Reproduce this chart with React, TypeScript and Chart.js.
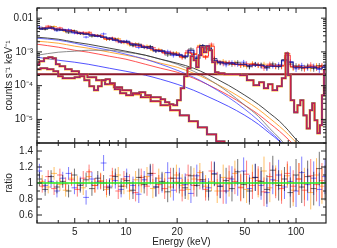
import React, { useEffect, useRef } from 'react';
import { Chart, registerables } from 'chart.js';
Chart.register(...registerables);

// ---------- energy grids (keV) ----------
const gridA = [3.1, 3.35, 3.63, 3.93, 4.25, 4.6, 4.98, 5.39, 5.83, 6.31, 6.83, 7.39, 8.0, 8.66, 9.37, 10.1, 11.0, 11.9, 12.8, 13.9, 15.0, 16.3, 17.6, 19.0, 20.6, 22.3, 24.1, 26.1, 28.3, 30.6, 33.1, 35.8, 38.8, 42.0, 45.4, 49.2, 53.2, 57.6, 62.3, 67.4, 73.0, 79.0, 85.5, 92.5, 100, 108, 117, 127, 137, 148];
const gridB = [3.22, 3.49, 3.78, 4.09, 4.42, 4.79, 5.18, 5.61, 6.07, 6.57, 7.1, 7.69, 8.32, 9.01, 9.73, 10.5, 11.4, 12.3, 13.3, 14.4, 15.6, 16.9, 18.3, 19.8, 21.4, 23.2, 25.1, 27.2, 29.4, 31.8, 34.4, 37.3, 40.4, 43.7, 47.3, 51.2, 55.4, 59.9, 64.8, 70.1, 75.9, 82.2, 88.9, 96.2, 104, 112, 122, 132, 142];

// ---------- total model (counts s^-1 keV^-1) ----------
const modelA = [4.72e-3, 5.05e-3, 5.05e-3, 4.72e-3, 4.40e-3, 4.11e-3, 3.84e-3, 3.59e-3, 3.35e-3, 3.13e-3,
  2.92e-3, 2.73e-3, 2.55e-3, 2.22e-3, 2.08e-3, 1.94e-3, 1.69e-3, 1.58e-3, 1.38e-3, 1.29e-3,
  1.12e-3, 1.05e-3, 9.15e-4, 8.55e-4, 7.98e-4, 7.45e-4, 1.12e-3, 6.5e-4, 1.48e-3, 1.29e-3,
  5.67e-4, 4.95e-4, 4.62e-4, 4.62e-4, 4.31e-4, 4.31e-4, 4.03e-4, 4.03e-4, 4.03e-4, 3.76e-4,
  3.76e-4, 3.76e-4, 5.67e-4, 4.95e-4, 3.51e-4, 3.51e-4, 3.51e-4, 3.51e-4, 3.28e-4, 3.51e-4];
const modelB = [5.05e-3, 5.41e-3, 5.05e-3, 4.72e-3, 4.40e-3, 4.11e-3, 3.84e-3, 3.59e-3, 3.35e-3, 3.13e-3,
  2.92e-3, 2.55e-3, 2.38e-3, 2.22e-3, 1.94e-3, 1.81e-3, 1.69e-3, 1.48e-3, 1.38e-3, 1.20e-3,
  1.12e-3, 9.8e-4, 9.15e-4, 8.55e-4, 7.45e-4, 9.8e-4, 8.55e-4, 1.38e-3, 7.45e-4, 1.48e-3,
  5.3e-4, 4.95e-4, 4.62e-4, 4.31e-4, 4.31e-4, 4.03e-4, 4.31e-4, 4.03e-4, 3.76e-4, 4.03e-4,
  3.76e-4, 4.03e-4, 7.98e-4, 3.76e-4, 3.51e-4, 3.51e-4, 3.76e-4, 3.51e-4, 3.76e-4];

// ---------- fractional errors ----------
const errA = [0.09, 0.08, 0.08, 0.08, 0.08, 0.08, 0.08, 0.09, 0.09, 0.09, 0.09, 0.1, 0.1, 0.1, 0.1, 0.1, 0.11, 0.11, 0.11, 0.12, 0.12, 0.12, 0.13, 0.13, 0.13, 0.14, 0.12, 0.14, 0.11, 0.12, 0.15, 0.15, 0.16, 0.16, 0.16, 0.17, 0.17, 0.17, 0.18, 0.18, 0.18, 0.19, 0.15, 0.19, 0.2, 0.2, 0.2, 0.21, 0.21, 0.22];
const errB = [0.08, 0.08, 0.08, 0.08, 0.08, 0.08, 0.09, 0.09, 0.09, 0.09, 0.1, 0.1, 0.1, 0.1, 0.1, 0.11, 0.11, 0.11, 0.12, 0.12, 0.12, 0.13, 0.13, 0.13, 0.14, 0.13, 0.14, 0.12, 0.14, 0.12, 0.15, 0.16, 0.16, 0.16, 0.17, 0.17, 0.17, 0.18, 0.18, 0.18, 0.19, 0.19, 0.15, 0.2, 0.2, 0.2, 0.21, 0.21, 0.22];

// ---------- data / model ratios ----------
const ratioBlack = [1.05, 0.92, 1.08, 0.95, 1.02, 0.9, 1.1, 0.97, 1.04, 0.93, 1.06, 1.0, 0.94, 1.08, 0.96, 1.03, 0.91, 1.07, 0.98, 1.12, 0.95, 1.02, 0.89, 1.06, 1.0, 0.94, 1.09, 0.97, 1.04, 0.9, 1.11, 0.96, 1.03, 0.93, 1.14, 0.98, 0.9, 1.07, 1.02, 0.92, 1.16, 0.97, 1.05, 0.88, 1.1, 0.95, 1.08, 0.93, 1.18, 1.0];
const ratioBlue = [1.15, 0.97, 1.02, 0.9, 1.06, 1.12, 0.94, 0.99, 0.82, 1.05, 1.01, 1.25, 0.96, 1.03, 0.92, 1.08, 0.97, 0.86, 1.04, 1.1, 0.95, 1.0, 1.13, 0.91, 1.06, 0.98, 0.87, 1.09, 1.02, 0.94, 1.12, 0.96, 0.9, 1.05, 1.0, 1.15, 0.93, 1.07, 0.97, 0.88, 1.04, 1.1, 0.95, 1.02, 0.9, 1.13, 0.98, 1.06, 0.92, 1.08];
const ratioRed = [0.96, 1.08, 0.93, 1.1, 0.99, 1.04, 0.92, 1.06, 1.14, 0.97, 1.02, 0.95, 1.09, 0.9, 1.05, 1.0, 0.88, 1.07, 0.96, 1.12, 0.98, 0.93, 1.06, 1.01, 0.91, 1.1, 0.97, 1.04, 0.92, 1.15, 0.99, 0.9, 1.06, 1.02, 0.94, 1.11, 0.97, 1.03, 0.89, 1.08, 1.0, 0.93, 1.12, 0.96, 1.05, 0.91, 1.09, 0.98, 1.03];
const ratioOrange = [1.02, 0.95, 1.12, 0.98, 0.91, 1.06, 1.0, 0.94, 1.08, 0.97, 1.03, 0.92, 1.05, 1.1, 0.96, 0.9, 1.04, 0.99, 1.08, 0.93, 1.06, 1.0, 0.95, 1.1, 0.97, 0.92, 1.05, 1.13, 0.96, 1.02, 0.9, 1.07, 0.99, 1.12, 0.95, 0.92, 1.06, 1.0, 1.15, 0.94, 1.03, 0.97, 1.09, 0.91, 1.05, 0.99, 0.88, 1.1, 0.96];

// ---------- smooth model components ----------
const compE = [3, 4, 5, 6, 8, 10, 13, 16, 20, 25, 30, 40, 50, 60, 70, 80, 90, 100, 120, 150];
const compDark = [2.73e-3, 2.38e-3, 1.94e-3, 1.69e-3, 1.29e-3, 1.05e-3, 7.98e-4, 6.07e-4, 4.62e-4, 3.28e-4, 2.18e-4, 1.03e-4, 5.19e-5, 2.81e-5, 1.52e-5, 8.8e-6, 4.75e-6, 2.57e-6, 1.21e-6, 4.3e-7];
const compGreyPeak = [7.98e-4, 9.8e-4, 1.05e-3, 1.12e-3, 1.12e-3, 9.8e-4, 7.98e-4, 6.07e-4, 4.31e-4, 2.67e-4, 1.66e-4, 6.37e-5, 2.62e-5, 1.24e-5, 5.4e-6, 2.75e-6, 1.39e-6, 7.0e-7, 2.2e-7, 5.6e-8];
const compOrange = [2.08e-3, 1.81e-3, 1.48e-3, 1.29e-3, 9.8e-4, 7.98e-4, 6.07e-4, 4.62e-4, 3.51e-4, 2.33e-4, 1.55e-4, 7.3e-5, 3.69e-5, 2.0e-5, 1.08e-5, 6.2e-6, 3.61e-6, 2.09e-6, 8.6e-7, 3.1e-7];
const compRed = [1.69e-3, 1.38e-3, 1.12e-3, 9.8e-4, 7.45e-4, 6.07e-4, 4.31e-4, 3.28e-4, 2.5e-4, 1.66e-4, 1.1e-4, 5.19e-5, 2.62e-5, 1.42e-5, 7.66e-6, 4.44e-6, 2.57e-6, 1.49e-6, 6.1e-7, 2.2e-7];
const compLightBlue = [2.55e-3, 2.22e-3, 1.81e-3, 1.48e-3, 1.12e-3, 8.55e-4, 6.07e-4, 4.31e-4, 2.86e-4, 1.78e-4, 1.1e-4, 4.53e-5, 2.0e-5, 9.4e-6, 4.44e-6, 2.4e-6, 1.21e-6, 6.1e-7, 1.8e-7, 4e-8];
const compBlueLow = [6.96e-4, 5.67e-4, 4.95e-4, 4.31e-4, 3.28e-4, 2.67e-4, 2.04e-4, 1.55e-4, 1.1e-4, 7.3e-5, 4.85e-5, 2.45e-5, 1.32e-5, 7.2e-6, 3.87e-6, 2.24e-6, 1.21e-6, 6.1e-7, 1.8e-7, 4e-8];

// ---------- reflection-like stepped component ----------
const reflE = [3.0, 3.2, 3.4, 3.6, 3.8, 3.95, 4.2, 4.6, 5.0, 5.6, 6.3, 7.1, 8.0, 9.0, 10.0, 11.5, 13, 15, 17, 19.5, 22, 25, 28, 32, 36, 40];
const reflV = [4.31e-4, 5.3e-4, 6.5e-4, 6.96e-4, 6.5e-4, 4.31e-4, 3.76e-4, 3.06e-4, 2.67e-4, 2.18e-4, 1.78e-4, 1.45e-4, 1.10e-4, 8.96e-5, 7.3e-5, 5.56e-5, 4.53e-5, 3.44e-5, 2.62e-5, 1.86e-5, 1.32e-5, 8.8e-6, 5.8e-6, 3.61e-6, 2.24e-6, 1.49e-6];

// ---------- background stepped component ----------
const bkgE = [3.0, 3.3, 3.6, 3.9, 4.1, 4.4, 4.8, 5.2, 5.5, 5.9, 6.3, 6.7, 7.0, 7.4, 7.8, 8.3, 8.9, 9.6, 10.5, 11.5, 12.5, 13.5, 14.5, 15.5, 16.5, 17.5, 18.5, 19.5, 20.5, 21.5, 22.5, 23.5, 24.5, 25.5, 26.3, 27.2, 28.2, 29.2, 30.3, 31.5, 32.8, 34, 36, 40, 45, 49, 54, 58.5, 63, 66.5, 70.5, 75, 80, 85, 88.6, 91, 95, 100, 104, 108, 113, 118, 123, 126, 131, 136, 140, 144, 148];
const bkgV = [3.06e-4, 3.28e-4, 3.06e-4, 2.67e-4, 1.90e-4, 1.66e-4, 1.66e-4, 1.78e-4, 1.90e-4, 1.45e-4, 9.6e-5, 7.3e-5, 9.6e-5, 1.45e-4, 1.55e-4, 1.18e-4, 7.82e-5, 5.95e-5, 5.19e-5, 5.95e-5, 6.37e-5, 5.19e-5, 4.53e-5, 4.53e-5, 3.95e-5, 3.22e-5, 2.81e-5, 2.62e-5, 3.69e-5, 8.37e-5, 1.90e-4, 3.28e-4, 7.45e-4, 5.67e-4, 3.51e-4, 7.98e-4, 1.38e-3, 9.8e-4, 1.48e-3, 1.12e-3, 4.95e-4, 2.5e-4, 2.33e-4, 2.18e-4, 2.18e-4, 2.04e-4, 1.45e-4, 1.03e-4, 1.26e-4, 8.37e-5, 1.10e-4, 7.3e-5, 9.6e-5, 1.66e-4, 9.15e-4, 2.04e-4, 3.69e-5, 1.62e-5, 2.62e-5, 3.69e-5, 1.32e-5, 5.4e-6, 1.86e-5, 3.0e-5, 9.4e-6, 3.87e-6, 6.7e-6, 5.19e-5, 2.86e-4];

// constant component
const constE = [3, 150];
const constV = [2.18e-4, 2.18e-4];

// ---------- axes ----------
const xRange = [3, 150];
const xTickValues = [5, 10, 20, 50, 100];
const xTickLabels = ['5', '10', '20', '50', '100'];
const xMinor = [3, 4, 6, 7, 8, 9, 30, 40, 60, 70, 80, 90];
const yTopRange = [2e-6, 0.02];
const yTopTickValues = [1e-5, 1e-4, 1e-3, 1e-2];
const yTopTickLabels = ['10\u207B\u2075', '10\u207B\u2074', '10\u207B\u00B3', '0.01'];
const yRatioRange = [0.5, 1.5];
const yRatioTicks = [0.6, 0.8, 1, 1.2, 1.4];
const yRatioLabels = ['0.6', '0.8', '1', '1.2', '1.4'];
const yRatioMinor = [0.7, 0.9, 1.1, 1.3];

const FONT = 'Liberation Sans, Arial, Helvetica, sans-serif';
const TXT = '#222';

// ---------- helpers ----------
function binEdges(E: number[]) {
  return E.map((e, i) => {
    const prev = i > 0 ? E[i - 1] : (e * e) / E[i + 1];
    const next = i < E.length - 1 ? E[i + 1] : (e * e) / E[i - 1];
    return [Math.sqrt(prev * e), Math.sqrt(e * next)];
  });
}
function crosses(E: number[], vals: number[], errs: number[]) {
  const ed = binEdges(E);
  const out: any[] = [];
  E.forEach((e, i) => {
    const v = vals[i];
    const d = errs[i];
    out.push({ x: ed[i][0], y: v }, { x: ed[i][1], y: v }, { x: e, y: null },
      { x: e, y: v - d }, { x: e, y: v + d }, { x: e, y: null });
  });
  return out;
}
const xy = (E: number[], V: number[]) => E.map((e, i) => ({ x: e, y: V[i] }));
const ds = (data: any[], color: string, width: number, extra: any = {}) => ({
  data, borderColor: color, backgroundColor: color, borderWidth: width, pointRadius: 0,
  fill: false, spanGaps: false, tension: 0, ...extra,
});
const noPad = (s: any) => { s.paddingTop = 0; s.paddingBottom = 0; s.paddingLeft = 0; s.paddingRight = 0; };

const framePlugin = {
  id: 'frame',
  afterDraw(chart: any, _args: any, opts: any) {
    const { ctx, chartArea: a, scales } = chart;
    const xs = scales.x, ys = scales.y;
    ctx.save();
    ctx.strokeStyle = '#222';
    ctx.lineWidth = 1.2;
    ctx.strokeRect(a.left, a.top, a.right - a.left, a.bottom - a.top);
    ctx.lineWidth = 1;
    const tick = (x1: number, y1: number, x2: number, y2: number) => {
      ctx.beginPath(); ctx.moveTo(x1, y1); ctx.lineTo(x2, y2); ctx.stroke();
    };
    const xt = (vals: number[], len: number) => vals.forEach((v) => {
      if (v < xs.min || v > xs.max) return;
      const px = xs.getPixelForValue(v);
      tick(px, a.top, px, a.top + len);
      tick(px, a.bottom, px, a.bottom - len);
    });
    const yt = (vals: number[], len: number) => vals.forEach((v) => {
      if (v < ys.min || v > ys.max) return;
      const py = ys.getPixelForValue(v);
      tick(a.left, py, a.left + len, py);
      tick(a.right, py, a.right - len, py);
    });
    xt(opts.xMajor, 5); xt(opts.xMinor, 3);
    yt(opts.yMajor, 5); yt(opts.yMinor, 3);
    ctx.restore();
  },
};

function topMinorY() {
  const out: number[] = [];
  [1e-6, 1e-5, 1e-4, 1e-3, 1e-2].forEach((d) => { for (let k = 2; k <= 9; k++) out.push(k * d); });
  return out;
}

export default function App() {
  const topRef = useRef<HTMLCanvasElement>(null);
  const botRef = useRef<HTMLCanvasElement>(null);

  useEffect(() => {
    const dataBlack = modelA.map((m, i) => m * ratioBlack[i]);
    const dataBlue = modelA.map((m, i) => m * ratioBlue[i]);
    const dataRed = modelB.map((m, i) => m * ratioRed[i]);
    const dataOrange = modelB.map((m, i) => m * ratioOrange[i]);
    const absErr = (vals: number[], errs: number[]) => vals.map((v, i) => v * errs[i]);

    const topDatasets = [
      ds(xy(bkgE, bkgV), '#ff2020', 0.9, { stepped: 'middle' }),
      ds(xy(bkgE, bkgV), 'rgba(30,30,200,0.95)', 1.6, { stepped: 'middle' }),
      ds(xy(bkgE, bkgV), 'rgba(255,165,0,0.8)', 2.4, { stepped: 'middle' }),
      ds(xy(reflE, reflV), '#ff2020', 0.9, { stepped: 'middle' }),
      ds(xy(reflE, reflV), 'rgba(30,30,200,0.95)', 1.6, { stepped: 'middle' }),
      ds(xy(reflE, reflV), 'rgba(255,165,0,0.8)', 2.4, { stepped: 'middle' }),
      ds(xy(constE, constV), '#8b1a2a', 1.8),
      ds(xy(gridA, modelA), '#1a1a9a', 1.2, { stepped: 'middle' }),
      ds(xy(gridB, modelB), 'rgba(255,0,0,0.8)', 1, { stepped: 'middle' }),
      ds(crosses(gridA, dataBlack, absErr(dataBlack, errA)), 'rgba(0,0,0,0.55)', 1),
      ds(crosses(gridA, dataBlue, absErr(dataBlue, errA)), 'rgba(0,0,255,0.55)', 1),
      ds(crosses(gridB, dataRed, absErr(dataRed, errB)), 'rgba(255,0,0,0.55)', 1),
      ds(crosses(gridB, dataOrange, absErr(dataOrange, errB)), 'rgba(255,150,0,0.7)', 1),
      ds(xy(compE, compDark), 'rgba(40,40,40,0.85)', 1, { cubicInterpolationMode: 'monotone' }),
      ds(xy(compE, compGreyPeak), 'rgba(120,120,120,0.85)', 1, { cubicInterpolationMode: 'monotone' }),
      ds(xy(compE, compLightBlue), 'rgba(60,60,255,0.75)', 1, { cubicInterpolationMode: 'monotone' }),
      ds(xy(compE, compOrange), 'rgba(255,160,40,0.9)', 1, { cubicInterpolationMode: 'monotone' }),
      ds(xy(compE, compRed), 'rgba(255,40,40,0.8)', 1, { cubicInterpolationMode: 'monotone' }),
      ds(xy(compE, compBlueLow), 'rgba(40,40,255,0.8)', 1, { cubicInterpolationMode: 'monotone' }),
    ];

    const top = new Chart(topRef.current as HTMLCanvasElement, {
      type: 'line',
      data: { datasets: topDatasets as any },
      options: {
        responsive: false,
        animation: false,
        events: [],
        layout: { padding: { left: 0, right: 11, top: 8, bottom: 2 } },
        scales: {
          x: {
            type: 'logarithmic', min: xRange[0], max: xRange[1],
            grid: { display: false, drawTicks: false }, border: { display: false },
            ticks: { display: false },
            afterFit: (s: any) => { s.height = 0; noPad(s); },
          },
          y: {
            type: 'logarithmic', min: yTopRange[0], max: yTopRange[1],
            grid: { display: false, drawTicks: false }, border: { display: false },
            afterFit: (s: any) => { s.width = 37; noPad(s); },
            afterBuildTicks: (s: any) => { s.ticks = yTopTickValues.map((v) => ({ value: v })); },
            ticks: {
              autoSkip: false, padding: 4, color: TXT, font: { family: FONT, size: 10 },
              callback: (_v: any, i: number) => yTopTickLabels[i],
            },
            title: {
              display: true, text: 'counts s\u207B\u00B9 keV\u207B\u00B9', color: TXT,
              font: { family: FONT, size: 10 }, padding: { top: 3, bottom: 0 },
            },
          },
        },
        plugins: {
          legend: { display: false },
          tooltip: { enabled: false },
          frame: { xMajor: xTickValues, xMinor, yMajor: yTopTickValues, yMinor: topMinorY() },
        } as any,
      },
      plugins: [framePlugin],
    });

    const botDatasets = [
      ds(xy(xRange, [1, 1]), '#22ee22', 1.6),
      ds(crosses(gridA, ratioBlack, errA), 'rgba(0,0,0,0.55)', 1),
      ds(crosses(gridB, ratioRed, errB), 'rgba(255,0,0,0.5)', 1),
      ds(crosses(gridA, ratioBlue, errA), 'rgba(0,0,255,0.5)', 1),
      ds(crosses(gridB, ratioOrange, errB), 'rgba(255,150,0,0.6)', 1),
    ];

    const bot = new Chart(botRef.current as HTMLCanvasElement, {
      type: 'line',
      data: { datasets: botDatasets as any },
      options: {
        responsive: false,
        animation: false,
        events: [],
        layout: { padding: { left: 0, right: 11, top: 1, bottom: 0 } },
        scales: {
          x: {
            type: 'logarithmic', min: xRange[0], max: xRange[1],
            grid: { display: false, drawTicks: false }, border: { display: false },
            afterFit: (s: any) => { s.height = 25; noPad(s); },
            afterBuildTicks: (s: any) => { s.ticks = xTickValues.map((v) => ({ value: v })); },
            ticks: {
              autoSkip: false, maxRotation: 0, padding: 3, color: TXT, font: { family: FONT, size: 10 },
              callback: (_v: any, i: number) => xTickLabels[i],
            },
            title: {
              display: true, text: 'Energy (keV)', color: TXT,
              font: { family: FONT, size: 10 }, padding: { top: 0, bottom: 0 },
            },
          },
          y: {
            type: 'linear', min: yRatioRange[0], max: yRatioRange[1],
            grid: { display: false, drawTicks: false }, border: { display: false },
            afterFit: (s: any) => { s.width = 37; noPad(s); },
            afterBuildTicks: (s: any) => { s.ticks = yRatioTicks.map((v) => ({ value: v })); },
            ticks: {
              autoSkip: false, padding: 4, color: TXT, font: { family: FONT, size: 10 },
              callback: (_v: any, i: number) => yRatioLabels[i],
            },
            title: {
              display: true, text: 'ratio', color: TXT,
              font: { family: FONT, size: 10 }, padding: { top: 3, bottom: 0 },
            },
          },
        },
        plugins: {
          legend: { display: false },
          tooltip: { enabled: false },
          frame: { xMajor: xTickValues, xMinor, yMajor: yRatioTicks, yMinor: yRatioMinor },
        } as any,
      },
      plugins: [framePlugin],
    });

    return () => { top.destroy(); bot.destroy(); };
  }, []);

  return (
    <div style={{ position: 'fixed', left: 0, top: 0, width: 337, height: 248, background: '#fff', overflow: 'hidden' }}>
      <canvas ref={topRef} width={337} height={145} style={{ position: 'absolute', left: 0, top: 0 }} />
      <canvas ref={botRef} width={337} height={106} style={{ position: 'absolute', left: 0, top: 142 }} />
    </div>
  );
}
